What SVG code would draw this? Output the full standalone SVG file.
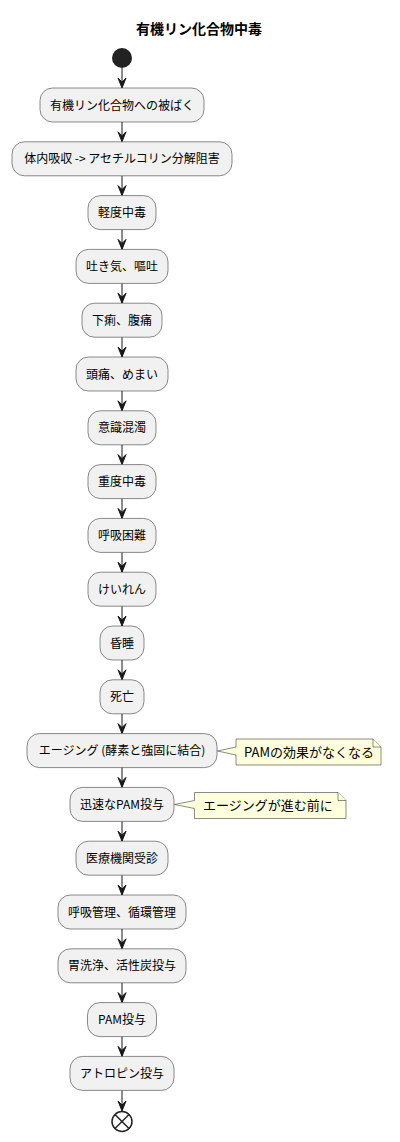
<svg xmlns="http://www.w3.org/2000/svg" width="400" height="1142" viewBox="0 0 400 1142">
<style>
.box{fill:#F1F1F1;stroke:#181818;stroke-width:0.5}
.t{font-family:"Noto Sans CJK JP","Noto Sans",sans-serif;font-size:12px;fill:#000;text-anchor:middle}
.nt{font-family:"Noto Sans CJK JP","Noto Sans",sans-serif;font-size:13px;fill:#000}
.note{fill:#FEFFDD;stroke:#181818;stroke-width:0.5}
.ln{stroke:#181818;stroke-width:1;fill:none}
.ah{fill:#181818;stroke:#181818;stroke-width:1}
.endm{fill:none;stroke:#222222;stroke-width:1.5}
</style>
<rect width="400" height="1142" fill="#FFFFFF"/>
<text x="199" y="34" style="font-family:'Noto Sans CJK JP','Noto Sans',sans-serif;font-size:14px;font-weight:bold;text-anchor:middle">有機リン化合物中毒</text>

<g id="start"><circle cx="122" cy="58" r="10" fill="#222222"/></g>

<g id="connectors">
<line class="ln" x1="122" y1="68" x2="122" y2="87"/><polygon class="ah" points="122,88 118,78 122,82 126,78"/>
<line class="ln" x1="122" y1="122" x2="122" y2="141"/><polygon class="ah" points="122,141.8 118,131.8 122,135.8 126,131.8"/>
<line class="ln" x1="122" y1="175.8" x2="122" y2="195"/><polygon class="ah" points="122,195.6 118,185.6 122,189.6 126,185.6"/>
<line class="ln" x1="122" y1="229.6" x2="122" y2="249"/><polygon class="ah" points="122,249.4 118,239.4 122,243.4 126,239.4"/>
<line class="ln" x1="122" y1="283.4" x2="122" y2="303"/><polygon class="ah" points="122,303.2 118,293.2 122,297.2 126,293.2"/>
<line class="ln" x1="122" y1="337.2" x2="122" y2="356.5"/><polygon class="ah" points="122,357 118,347 122,351 126,347"/>
<line class="ln" x1="122" y1="391" x2="122" y2="410.5"/><polygon class="ah" points="122,410.8 118,400.8 122,404.8 126,400.8"/>
<line class="ln" x1="122" y1="444.8" x2="122" y2="464"/><polygon class="ah" points="122,464.6 118,454.6 122,458.6 126,454.6"/>
<line class="ln" x1="122" y1="498.6" x2="122" y2="518"/><polygon class="ah" points="122,518.4 118,508.4 122,512.4 126,508.4"/>
<line class="ln" x1="122" y1="552.4" x2="122" y2="572"/><polygon class="ah" points="122,572.2 118,562.2 122,566.2 126,562.2"/>
<line class="ln" x1="122" y1="606.2" x2="122" y2="625.5"/><polygon class="ah" points="122,626 118,616 122,620 126,616"/>
<line class="ln" x1="122" y1="660" x2="122" y2="679.5"/><polygon class="ah" points="122,679.8 118,669.8 122,673.8 126,669.8"/>
<line class="ln" x1="122" y1="713.8" x2="122" y2="733"/><polygon class="ah" points="122,733.6 118,723.6 122,727.6 126,723.6"/>
<line class="ln" x1="122" y1="767.6" x2="122" y2="787"/><polygon class="ah" points="122,787.4 118,777.4 122,781.4 126,777.4"/>
<line class="ln" x1="122" y1="821.4" x2="122" y2="841"/><polygon class="ah" points="122,841.2 118,831.2 122,835.2 126,831.2"/>
<line class="ln" x1="122" y1="875.2" x2="122" y2="894.5"/><polygon class="ah" points="122,895 118,885 122,889 126,885"/>
<line class="ln" x1="122" y1="929" x2="122" y2="948.5"/><polygon class="ah" points="122,948.8 118,938.8 122,942.8 126,938.8"/>
<line class="ln" x1="122" y1="982.8" x2="122" y2="1002"/><polygon class="ah" points="122,1002.6 118,992.6 122,996.6 126,992.6"/>
<line class="ln" x1="122" y1="1036.6" x2="122" y2="1056"/><polygon class="ah" points="122,1056.4 118,1046.4 122,1050.4 126,1046.4"/>
<line class="ln" x1="122" y1="1090.4" x2="122" y2="1110.5"/><polygon class="ah" points="122,1111 118,1101 122,1105 126,1101"/>
</g>

<g id="n1"><rect class="box" x="40" y="88" width="164" height="34" rx="12.5"/><text class="t" x="122" y="109.5">有機リン化合物への被ばく</text></g>
<g id="n2"><rect class="box" x="12" y="141.8" width="220" height="34" rx="12.5"/><text class="t" x="122" y="163.3" xml:space="preserve">体内吸収 -&gt; アセチルコリン分解阻害</text></g>
<g id="n3"><rect class="box" x="88" y="195.6" width="68" height="34" rx="12.5"/><text class="t" x="122" y="217.1">軽度中毒</text></g>
<g id="n4"><rect class="box" x="76" y="249.4" width="92" height="34" rx="12.5"/><text class="t" x="122" y="270.9">吐き気、嘔吐</text></g>
<g id="n5"><rect class="box" x="82" y="303.2" width="80" height="34" rx="12.5"/><text class="t" x="122" y="324.7">下痢、腹痛</text></g>
<g id="n6"><rect class="box" x="76" y="357" width="92" height="34" rx="12.5"/><text class="t" x="122" y="378.5">頭痛、めまい</text></g>
<g id="n7"><rect class="box" x="88" y="410.8" width="68" height="34" rx="12.5"/><text class="t" x="122" y="432.3">意識混濁</text></g>
<g id="n8"><rect class="box" x="88" y="464.6" width="68" height="34" rx="12.5"/><text class="t" x="122" y="486.1">重度中毒</text></g>
<g id="n9"><rect class="box" x="88" y="518.4" width="68" height="34" rx="12.5"/><text class="t" x="122" y="539.9">呼吸困難</text></g>
<g id="n10"><rect class="box" x="88" y="572.2" width="68" height="34" rx="12.5"/><text class="t" x="122" y="593.7">けいれん</text></g>
<g id="n11"><rect class="box" x="100" y="626" width="44" height="34" rx="12.5"/><text class="t" x="122" y="647.5">昏睡</text></g>
<g id="n12"><rect class="box" x="100" y="679.8" width="44" height="34" rx="12.5"/><text class="t" x="122" y="701.3">死亡</text></g>
<g id="n13"><rect class="box" x="27" y="733.6" width="190" height="34" rx="12.5"/><text class="t" x="122" y="755.1">エージング (酵素と強固に結合)</text></g>
<g id="n14"><rect class="box" x="70" y="787.4" width="104" height="34" rx="12.5"/><text class="t" x="122" y="808.9">迅速なPAM投与</text></g>
<g id="n15"><rect class="box" x="76" y="841.2" width="92" height="34" rx="12.5"/><text class="t" x="122" y="862.7">医療機関受診</text></g>
<g id="n16"><rect class="box" x="58" y="895" width="128" height="34" rx="12.5"/><text class="t" x="122" y="916.5">呼吸管理、循環管理</text></g>
<g id="n17"><rect class="box" x="58" y="948.8" width="128" height="34" rx="12.5"/><text class="t" x="122" y="970.3">胃洗浄、活性炭投与</text></g>
<g id="n18"><rect class="box" x="87.5" y="1002.6" width="69" height="34" rx="12.5"/><text class="t" x="122" y="1024.1">PAM投与</text></g>
<g id="n19"><rect class="box" x="70" y="1056.4" width="104" height="34" rx="12.5"/><text class="t" x="122" y="1077.9">アトロピン投与</text></g>

<g id="note1"><path class="note" d="M236,739 L373,739 L381,747 L381,765 L236,765 L236,755 L217.5,751 L236,747 Z"/><path class="note" d="M373,739 L373,747 L381,747"/><text class="nt" x="244" y="756.5">PAMの効果がなくなる</text></g>
<g id="note2"><path class="note" d="M194.5,792.5 L338,792.5 L346,800.5 L346,818.5 L194.5,818.5 L194.5,808.5 L174.5,804.5 L194.5,800.5 Z"/><path class="note" d="M338,792.5 L338,800.5 L346,800.5"/><text class="nt" x="203" y="810">エージングが進む前に</text></g>

<g id="end"><circle class="endm" cx="122" cy="1121.5" r="10"/><line class="endm" x1="115" y1="1114.5" x2="129" y2="1128.5"/><line class="endm" x1="129" y1="1114.5" x2="115" y2="1128.5"/></g>
</svg>
